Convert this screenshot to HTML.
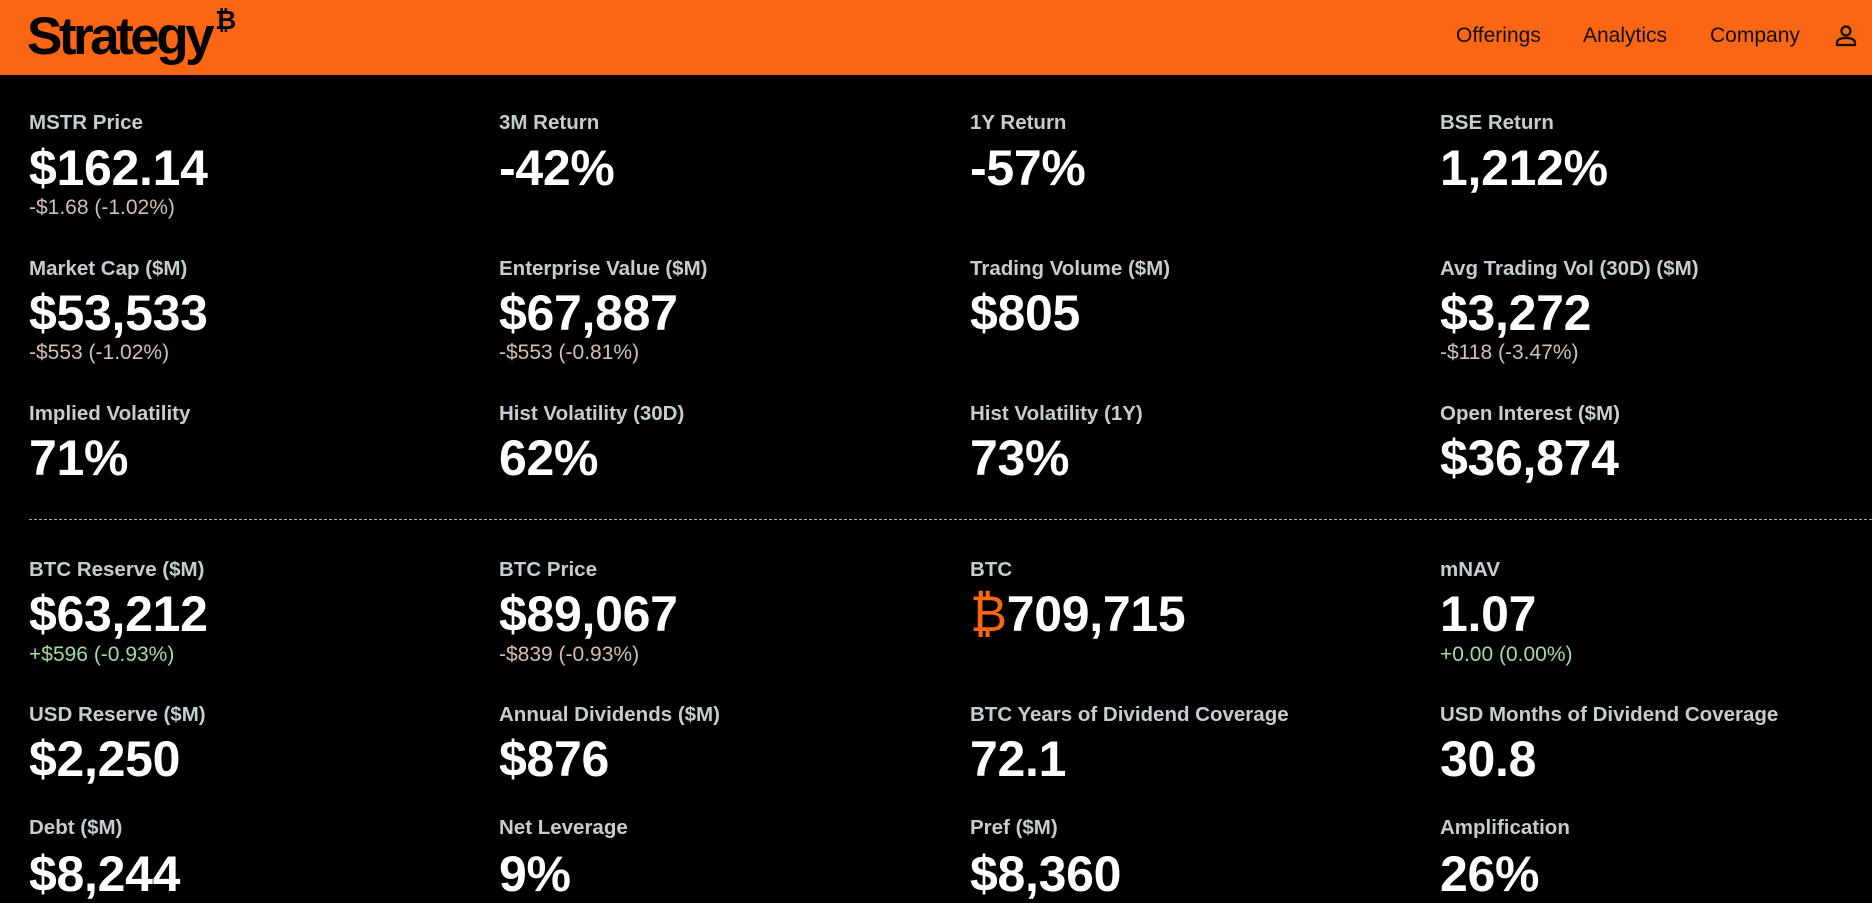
<!DOCTYPE html>
<html><head><meta charset="utf-8"><style>
*{margin:0;padding:0;box-sizing:border-box}
body{width:1872px;height:901px;background:#000;font-family:"Liberation Sans",sans-serif;overflow:hidden;position:relative;color:#fff}
.hdr{position:absolute;left:0;top:0;width:1872px;height:75px;background:#fa6614}
.logo{position:absolute;left:27px;top:6px;font-size:53px;font-weight:bold;color:#000;letter-spacing:-3.5px}
.logo sup{font-size:26px;letter-spacing:0;position:relative;top:-6px;margin-left:4px}
.nav{position:absolute;top:24px;font-size:21px;color:#111}
.l{position:absolute;font-size:20.5px;font-weight:bold;color:#c2ced2}
.v{position:absolute;font-size:50px;font-weight:bold;color:#fff;letter-spacing:-0.3px}
.s{position:absolute;font-size:21px;color:#d8bfad}
.s.g{color:#a3dca3}
.dash{position:absolute;left:29px;top:519px;width:1843px;border-top:1px dashed #aaa}
</style></head><body>
<div class="hdr">
<div class="logo">Strategy<sup>₿</sup></div>
<div class="nav" style="left:1456px">Offerings</div>
<div class="nav" style="left:1583px">Analytics</div>
<div class="nav" style="left:1710px">Company</div>
<svg style="position:absolute;left:1835px;top:24px" width="22" height="24" viewBox="0 0 22 24"><circle cx="11" cy="7" r="4.5" fill="none" stroke="#111" stroke-width="2.2"/><path d="M2 21 v-2 q0-5 9-5 q9 0 9 5 v2 z" fill="none" stroke="#111" stroke-width="2.2"/></svg>
</div>

<div class="l" style="left:29px;top:111px">MSTR Price</div>
<div class="v" style="left:29px;top:139px">$162.14</div>
<div class="s" style="left:29px;top:196px">-$1.68 (-1.02%)</div>
<div class="l" style="left:499px;top:111px">3M Return</div>
<div class="v" style="left:499px;top:139px">-42%</div>
<div class="l" style="left:970px;top:111px">1Y Return</div>
<div class="v" style="left:970px;top:139px">-57%</div>
<div class="l" style="left:1440px;top:111px">BSE Return</div>
<div class="v" style="left:1440px;top:139px">1,212%</div>

<div class="l" style="left:29px;top:257px">Market Cap ($M)</div>
<div class="v" style="left:29px;top:284px">$53,533</div>
<div class="s" style="left:29px;top:341px">-$553 (-1.02%)</div>
<div class="l" style="left:499px;top:257px">Enterprise Value ($M)</div>
<div class="v" style="left:499px;top:284px">$67,887</div>
<div class="s" style="left:499px;top:341px">-$553 (-0.81%)</div>
<div class="l" style="left:970px;top:257px">Trading Volume ($M)</div>
<div class="v" style="left:970px;top:284px">$805</div>
<div class="l" style="left:1440px;top:257px">Avg Trading Vol (30D) ($M)</div>
<div class="v" style="left:1440px;top:284px">$3,272</div>
<div class="s" style="left:1440px;top:341px">-$118 (-3.47%)</div>

<div class="l" style="left:29px;top:402px">Implied Volatility</div>
<div class="v" style="left:29px;top:429px">71%</div>
<div class="l" style="left:499px;top:402px">Hist Volatility (30D)</div>
<div class="v" style="left:499px;top:429px">62%</div>
<div class="l" style="left:970px;top:402px">Hist Volatility (1Y)</div>
<div class="v" style="left:970px;top:429px">73%</div>
<div class="l" style="left:1440px;top:402px">Open Interest ($M)</div>
<div class="v" style="left:1440px;top:429px">$36,874</div>

<div class="dash"></div>

<div class="l" style="left:29px;top:558px">BTC Reserve ($M)</div>
<div class="v" style="left:29px;top:585px">$63,212</div>
<div class="s g" style="left:29px;top:643px">+$596 (-0.93%)</div>
<div class="l" style="left:499px;top:558px">BTC Price</div>
<div class="v" style="left:499px;top:585px">$89,067</div>
<div class="s" style="left:499px;top:643px">-$839 (-0.93%)</div>
<div class="l" style="left:970px;top:558px">BTC</div>
<div class="v" style="left:970px;top:585px"><span style="color:#fa6614;font-weight:normal">₿</span>709,715</div>
<div class="l" style="left:1440px;top:558px">mNAV</div>
<div class="v" style="left:1440px;top:585px">1.07</div>
<div class="s g" style="left:1440px;top:643px">+0.00 (0.00%)</div>

<div class="l" style="left:29px;top:703px">USD Reserve ($M)</div>
<div class="v" style="left:29px;top:730px">$2,250</div>
<div class="l" style="left:499px;top:703px">Annual Dividends ($M)</div>
<div class="v" style="left:499px;top:730px">$876</div>
<div class="l" style="left:970px;top:703px">BTC Years of Dividend Coverage</div>
<div class="v" style="left:970px;top:730px">72.1</div>
<div class="l" style="left:1440px;top:703px">USD Months of Dividend Coverage</div>
<div class="v" style="left:1440px;top:730px">30.8</div>

<div class="l" style="left:29px;top:816px">Debt ($M)</div>
<div class="v" style="left:29px;top:845px">$8,244</div>
<div class="l" style="left:499px;top:816px">Net Leverage</div>
<div class="v" style="left:499px;top:845px">9%</div>
<div class="l" style="left:970px;top:816px">Pref ($M)</div>
<div class="v" style="left:970px;top:845px">$8,360</div>
<div class="l" style="left:1440px;top:816px">Amplification</div>
<div class="v" style="left:1440px;top:845px">26%</div>
</body></html>
